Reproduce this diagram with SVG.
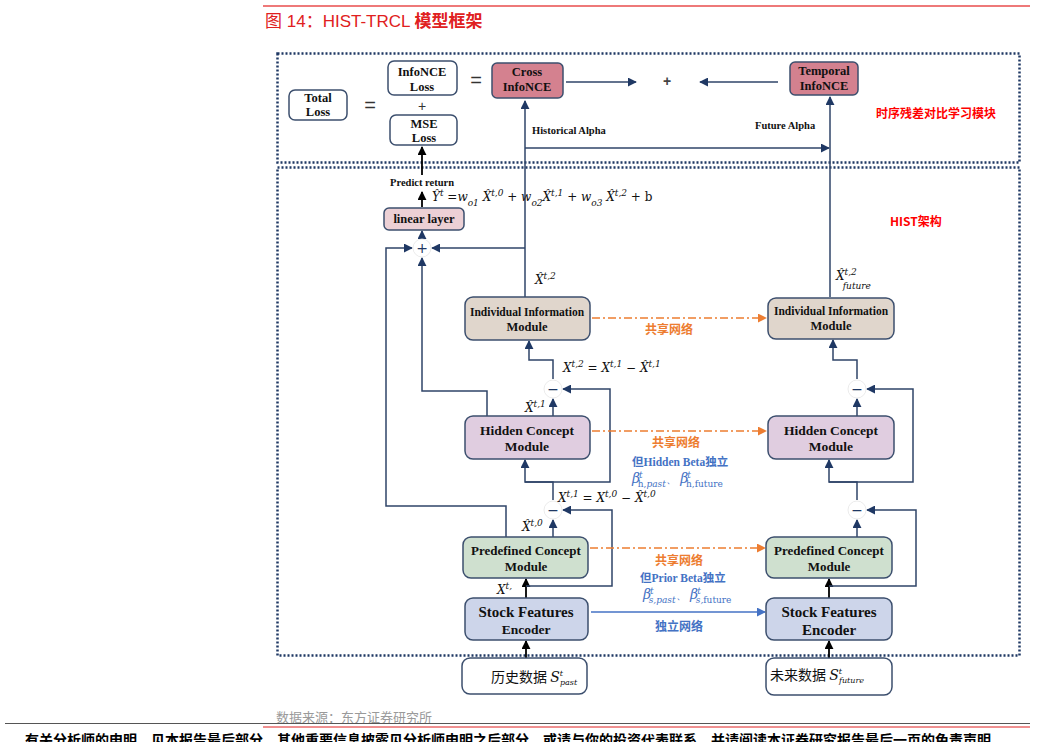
<svg xmlns="http://www.w3.org/2000/svg" width="1040" height="742" viewBox="0 0 1040 742">
<defs>
<marker id="an" viewBox="0 0 10 10" refX="9" refY="5" markerWidth="9" markerHeight="9" markerUnits="userSpaceOnUse" orient="auto"><path d="M0,0 L10,5 L0,10 z" fill="#1f3864"/></marker>
<marker id="ak" viewBox="0 0 10 10" refX="9" refY="5" markerWidth="9" markerHeight="9" markerUnits="userSpaceOnUse" orient="auto"><path d="M0,0 L10,5 L0,10 z" fill="#000"/></marker>
<marker id="ao" viewBox="0 0 10 10" refX="9" refY="5" markerWidth="9" markerHeight="9" markerUnits="userSpaceOnUse" orient="auto"><path d="M0,0 L10,5 L0,10 z" fill="#ed7d31"/></marker>
<marker id="ab" viewBox="0 0 10 10" refX="9" refY="5" markerWidth="9" markerHeight="9" markerUnits="userSpaceOnUse" orient="auto"><path d="M0,0 L10,5 L0,10 z" fill="#4472c4"/></marker>
</defs>
<style>
.frame{fill:none;stroke:#1f3864;stroke-width:2.5;stroke-dasharray:2 2}
.box{stroke:#3c4f6e;stroke-width:1.5}
.w{fill:#fff}
.lb{font-family:"Liberation Serif",serif;font-weight:bold;fill:#111;text-anchor:middle}
.ln{fill:none;stroke:#2f4468;stroke-width:1.5}
.lk{fill:none;stroke:#000;stroke-width:1.8}
.or{fill:none;stroke:#ed7d31;stroke-width:1.3;stroke-dasharray:8 3 2 3}
.bl{fill:none;stroke:#4472c4;stroke-width:1.3}
.m{font-family:"DejaVu Serif","Liberation Serif",serif;font-style:italic;fill:#111;font-size:12px}
.cn{font-family:"Noto Sans CJK SC",sans-serif;font-weight:bold;font-size:12px}
.sg{fill:#fff;stroke:#e6e6e6;stroke-width:0.8}
.sym{font-family:"DejaVu Sans",sans-serif;font-size:14px;fill:#1f3864;text-anchor:middle}
.beta{font-family:"DejaVu Serif",serif;font-style:italic;font-size:14px;fill:#4472c4}
</style>
<line x1="263" y1="6" x2="1030" y2="6" stroke="#e84c4c" stroke-width="1.5"/>
<text x="265" y="27" font-family="Liberation Sans,'Noto Sans CJK SC',sans-serif" font-size="17" fill="#e02020">图 14：HIST-TRCL <tspan font-family="'Noto Sans CJK SC',sans-serif" font-weight="bold">模型框架</tspan></text>
<rect class="frame" x="277.5" y="53.5" width="742" height="109"/>
<rect class="frame" x="277.5" y="167.5" width="742" height="488"/>
<text x="876" y="118" class="cn" fill="#ff0000" font-size="12.5">时序残差对比学习模块</text>
<text x="890" y="226" class="cn" fill="#ff0000">HIST架构</text>
<g id="connectors">
<path class="ln" d="M525,297 V101" marker-end="url(#an)"/>
<path class="ln" d="M525,148 H829" marker-end="url(#an)"/>
<path class="ln" d="M830,297 V97" marker-end="url(#an)"/>
<path class="ln" d="M566,82 H636" marker-end="url(#an)"/>
<path class="ln" d="M778,82 H700" marker-end="url(#an)"/>
<path class="lk" d="M422,175 V147" marker-end="url(#ak)"/>
<path class="lk" d="M422,207 V192" marker-end="url(#ak)"/>
<path class="ln" d="M422,239 V231" marker-end="url(#an)"/>
<path class="ln" d="M525,248 H432" marker-end="url(#an)"/>
<path class="ln" d="M506,537 V506 H386 V248 H412" marker-end="url(#an)"/>
<path class="ln" d="M487,416 V391 H422 V258" marker-end="url(#an)"/>
<path class="lk" d="M526,658 V641" marker-end="url(#ak)"/>
<path class="lk" d="M526,598 V579" marker-end="url(#ak)"/>
<path class="ln" d="M553,537 V520" marker-end="url(#an)"/>
<path class="ln" d="M526,586 H612 V510 H563" marker-end="url(#an)"/>
<path class="ln" d="M553,500 V482 H525 V460" marker-end="url(#an)"/>
<path class="ln" d="M525,482 H610 V389 H563" marker-end="url(#an)"/>
<path class="ln" d="M553,416 V399" marker-end="url(#an)"/>
<path class="ln" d="M553,379 V360 H529 V341" marker-end="url(#an)"/>
<path class="lk" d="M829,658 V641" marker-end="url(#ak)"/>
<path class="lk" d="M829,598 V579" marker-end="url(#ak)"/>
<path class="ln" d="M857,537 V520" marker-end="url(#an)"/>
<path class="ln" d="M829,586 H916 V510 H867" marker-end="url(#an)"/>
<path class="ln" d="M857,500 V482 H829 V460" marker-end="url(#an)"/>
<path class="ln" d="M829,482 H913 V389 H867" marker-end="url(#an)"/>
<path class="ln" d="M857,416 V399" marker-end="url(#an)"/>
<path class="ln" d="M857,379 V360 H833 V340" marker-end="url(#an)"/>
<path class="or" d="M592,318 H766" marker-end="url(#ao)"/>
<path class="or" d="M592,431 H766" marker-end="url(#ao)"/>
<path class="or" d="M590,548 H765" marker-end="url(#ao)"/>
<path class="bl" d="M591,612 H765" marker-end="url(#ab)"/>
</g>
<g id="ops">
<circle class="sg" cx="422" cy="248" r="9"/><text class="sym" x="422" y="253">+</text>
<circle class="sg" cx="553" cy="389" r="9"/><text class="sym" x="553" y="394">−</text>
<circle class="sg" cx="553" cy="510" r="9"/><text class="sym" x="553" y="515">−</text>
<circle class="sg" cx="857" cy="389" r="9"/><text class="sym" x="857" y="394">−</text>
<circle class="sg" cx="857" cy="510" r="9"/><text class="sym" x="857" y="515">−</text>
</g>
<g id="total-loss"><rect class="box w" x="289" y="90" width="58" height="30" rx="6"/><text class="lb" font-size="12.5" x="318" y="102">Total</text><text class="lb" font-size="12.5" x="318" y="116">Loss</text></g>
<text x="370" y="112" font-family="Liberation Sans,sans-serif" font-size="20" fill="#333" text-anchor="middle">=</text>
<g id="infonce-loss"><rect class="box w" x="388" y="61" width="69" height="34" rx="6"/><text class="lb" font-size="12.5" x="422" y="76">InfoNCE</text><text class="lb" font-size="12.5" x="422" y="91">Loss</text></g>
<text x="422" y="111" font-family="Liberation Sans,sans-serif" font-size="14" fill="#333" text-anchor="middle">+</text>
<g id="mse-loss"><rect class="box w" x="390" y="115" width="67" height="30" rx="6"/><text class="lb" font-size="12.5" x="424" y="128">MSE</text><text class="lb" font-size="12.5" x="424" y="142">Loss</text></g>
<text x="476" y="87" font-family="Liberation Sans,sans-serif" font-size="20" fill="#333" text-anchor="middle">=</text>
<g id="cross-infonce"><rect class="box" fill="#d4818f" x="492" y="63" width="71" height="35" rx="5"/><text class="lb" font-size="12.5" x="527" y="76">Cross</text><text class="lb" font-size="12.5" x="527" y="91">InfoNCE</text></g>
<text x="667" y="86" font-family="Liberation Sans,sans-serif" font-size="14" font-weight="bold" fill="#444" text-anchor="middle">+</text>
<g id="temporal-infonce"><rect class="box" fill="#d4818f" x="790" y="62" width="68" height="33" rx="5"/><text class="lb" font-size="12.5" x="824" y="75">Temporal</text><text class="lb" font-size="12.5" x="824" y="90">InfoNCE</text></g>
<text x="532" y="134" font-family="Liberation Serif,serif" font-weight="bold" font-size="10.5" fill="#111">Historical Alpha</text>
<text x="755" y="129" font-family="Liberation Serif,serif" font-weight="bold" font-size="10.5" fill="#111">Future Alpha</text>
<text x="390" y="186" font-family="Liberation Serif,serif" font-weight="bold" font-size="10.5" fill="#111">Predict return</text>
<text x="432" y="201" class="m">Ŷ<tspan baseline-shift="super" font-size="9">t</tspan> =w<tspan baseline-shift="sub" font-size="9">o1</tspan> X̂<tspan baseline-shift="super" font-size="9">t,0</tspan> + w<tspan baseline-shift="sub" font-size="9">o2</tspan>X̂<tspan baseline-shift="super" font-size="9">t,1</tspan> + w<tspan baseline-shift="sub" font-size="9">o3</tspan> X̂<tspan baseline-shift="super" font-size="9">t,2</tspan> + <tspan font-style="normal">b</tspan></text>
<g id="linear-layer"><rect class="box" fill="#ecd0d5" x="384" y="208" width="80" height="22" rx="5"/><text class="lb" font-size="12.5" x="424" y="223">linear layer</text></g>
<text x="535" y="284" class="m">X̂<tspan baseline-shift="super" font-size="9">t,2</tspan></text>
<text x="836" y="280" class="m">X̂<tspan baseline-shift="super" font-size="9">t,2</tspan><tspan dx="-14" dy="9" font-size="9">future</tspan></text>
<g id="ind-left"><rect class="box" fill="#e0d6cc" x="465" y="297" width="125" height="43" rx="8"/><text class="lb" font-size="11.5" x="527" y="316">Individual Information</text><text class="lb" font-size="12.5" x="527" y="331">Module</text></g>
<g id="ind-right"><rect class="box" fill="#e0d6cc" x="768" y="298" width="126" height="41" rx="8"/><text class="lb" font-size="11.5" x="831" y="315">Individual Information</text><text class="lb" font-size="12.5" x="831" y="330">Module</text></g>
<text x="645" y="334" class="cn" fill="#ed7d31">共享网络</text>
<text x="563" y="372" class="m">X<tspan baseline-shift="super" font-size="9">t,2</tspan> = X<tspan baseline-shift="super" font-size="9">t,1</tspan> − X̂<tspan baseline-shift="super" font-size="9">t,1</tspan></text>
<text x="525" y="412" class="m">X̂<tspan baseline-shift="super" font-size="9">t,1</tspan></text>
<g id="hid-left"><rect class="box" fill="#e0cde0" x="465" y="416" width="125" height="43" rx="8"/><text class="lb" font-size="13.5" x="527" y="435">Hidden Concept</text><text class="lb" font-size="13.5" x="527" y="451">Module</text></g>
<g id="hid-right"><rect class="box" fill="#e0cde0" x="768" y="416" width="126" height="43" rx="8"/><text class="lb" font-size="13.5" x="831" y="435">Hidden Concept</text><text class="lb" font-size="13.5" x="831" y="451">Module</text></g>
<text x="652" y="447" class="cn" fill="#ed7d31">共享网络</text>
<text x="632" y="466" font-family="Liberation Serif,'Noto Sans CJK SC',serif" font-weight="bold" font-size="11.5" fill="#4472c4">但Hidden Beta独立</text>
<text x="632" y="483" class="beta">β<tspan dx="-1" dy="-5" font-size="9">t</tspan><tspan dx="-5" dy="9" font-size="9"><tspan font-style="normal">h,</tspan>past</tspan><tspan dy="-4" font-style="normal" font-size="11">、 </tspan><tspan>β</tspan><tspan dx="-1" dy="-5" font-size="9">t</tspan><tspan dx="-5" dy="9" font-size="9" font-style="normal">h,future</tspan></text>
<text x="558" y="502" class="m">X<tspan baseline-shift="super" font-size="9">t,1</tspan> = X<tspan baseline-shift="super" font-size="9">t,0</tspan> − X̂<tspan baseline-shift="super" font-size="9">t,0</tspan></text>
<text x="522" y="531" class="m">X̂<tspan baseline-shift="super" font-size="9">t,0</tspan></text>
<g id="pre-left"><rect class="box" fill="#cfe0cf" x="463" y="537" width="125" height="41" rx="8"/><text class="lb" font-size="13" x="526" y="555">Predefined Concept</text><text class="lb" font-size="13" x="526" y="571">Module</text></g>
<g id="pre-right"><rect class="box" fill="#cfe0cf" x="766" y="537" width="126" height="41" rx="8"/><text class="lb" font-size="13" x="829" y="555">Predefined Concept</text><text class="lb" font-size="13" x="829" y="571">Module</text></g>
<text x="655" y="565" class="cn" fill="#ed7d31">共享网络</text>
<text x="640" y="582" font-family="Liberation Serif,'Noto Sans CJK SC',serif" font-weight="bold" font-size="11.5" fill="#4472c4">但Prior Beta独立</text>
<text x="643" y="599" class="beta">β<tspan dx="-1" dy="-5" font-size="9">t</tspan><tspan dx="-5" dy="9" font-size="9">s,past</tspan><tspan dy="-4" font-style="normal" font-size="11">、 </tspan><tspan>β</tspan><tspan dx="-1" dy="-5" font-size="9">t</tspan><tspan dx="-5" dy="9" font-size="9"><tspan>s,</tspan><tspan font-style="normal">future</tspan></tspan></text>
<text x="497" y="594" class="m">X<tspan baseline-shift="super" font-size="9">t,</tspan></text>
<g id="enc-left"><rect class="box" fill="#cdd5ea" x="465" y="598" width="123" height="42" rx="8"/><text class="lb" font-size="15" x="526" y="617">Stock Features</text><text class="lb" font-size="13.5" x="526" y="634">Encoder</text></g>
<g id="enc-right"><rect class="box" fill="#cdd5ea" x="766" y="598" width="126" height="42" rx="8"/><text class="lb" font-size="15" x="829" y="617">Stock Features</text><text class="lb" font-size="15" x="829" y="635">Encoder</text></g>
<text x="655" y="631" class="cn" fill="#4472c4">独立网络</text>
<g id="hist-data"><rect class="box w" x="462" y="658" width="125" height="36" rx="8"/><text x="491" y="682" font-family="'Noto Sans CJK SC',sans-serif" font-size="14" fill="#111">历史数据 <tspan font-family="DejaVu Serif,serif" font-style="italic">S</tspan><tspan font-family="DejaVu Serif,serif" font-style="italic" font-size="8" dy="-6">t</tspan><tspan font-family="DejaVu Serif,serif" font-style="italic" font-size="8" dx="-3" dy="9">past</tspan></text></g>
<g id="future-data"><rect class="box w" x="766" y="658" width="126" height="37" rx="8"/><text x="770" y="680" font-family="'Noto Sans CJK SC',sans-serif" font-size="14" fill="#111">未来数据 <tspan font-family="DejaVu Serif,serif" font-style="italic">S</tspan><tspan font-family="DejaVu Serif,serif" font-style="italic" font-size="8" dy="-6">t</tspan><tspan font-family="DejaVu Serif,serif" font-style="italic" font-size="8" dx="-3" dy="9">future</tspan></text></g>
<text x="276" y="722" font-family="'Noto Sans CJK SC',sans-serif" font-size="13" fill="#9a9a9a">数据来源：东方证券研究所</text>
<line x1="5" y1="723.5" x2="1030" y2="723.5" stroke="#555" stroke-width="1"/>
<line x1="263" y1="727" x2="1030" y2="727" stroke="#e02020" stroke-width="1"/>
<text x="25" y="745" font-family="'Noto Sans CJK SC',sans-serif" font-weight="bold" font-size="14" fill="#000">有关分析师的申明，见本报告最后部分。其他重要信息披露见分析师申明之后部分，或请与你的投资代表联系。并请阅读本证券研究报告最后一页的免责声明。</text>
</svg>
